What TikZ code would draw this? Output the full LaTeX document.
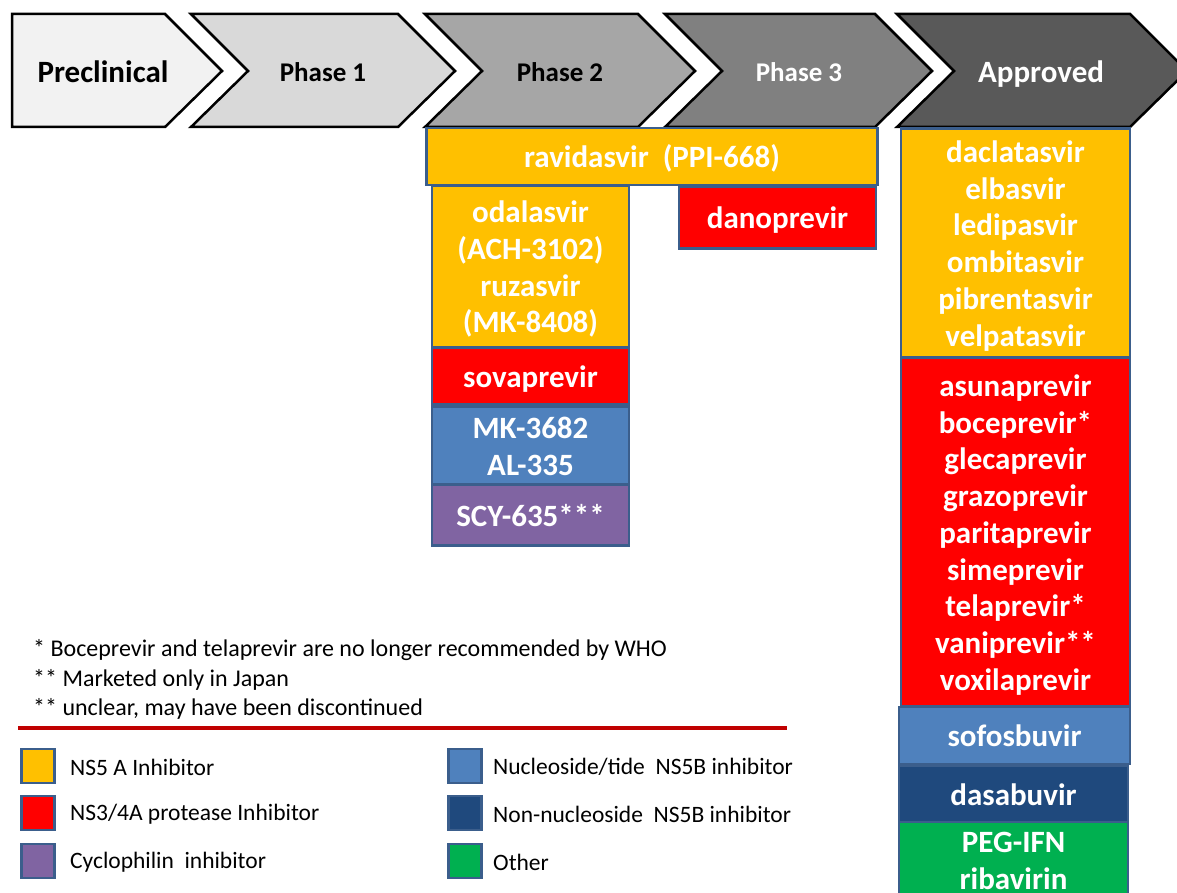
\documentclass[tikz,border=0pt]{standalone}
\usepackage{fontspec}
\setmainfont{Carlito}
\definecolor{cPre}{HTML}{F2F2F2}
\definecolor{cP1}{HTML}{D9D9D9}
\definecolor{cP2}{HTML}{A6A6A6}
\definecolor{cP3}{HTML}{808080}
\definecolor{cApp}{HTML}{595959}
\definecolor{cYel}{HTML}{FFC000}
\definecolor{cRed}{HTML}{FF0000}
\definecolor{cBlue}{HTML}{4F81BD}
\definecolor{cNavy}{HTML}{1F497D}
\definecolor{cPur}{HTML}{8064A2}
\definecolor{cGrn}{HTML}{00B050}
\definecolor{cEdge}{HTML}{3B5E8C}
\definecolor{cLine}{HTML}{C00000}
\newcommand{\dlines}[1]{\raisebox{-4pt}[\height][\depth]{\begin{tabular}{@{}c@{}}#1\end{tabular}}}
\tikzset{
  chev/.style={draw=black, line width=2.5pt, line join=miter},
  chevtxt/.style={anchor=base, inner sep=0pt, font=\bfseries\fontsize{27}{30}\selectfont},
  chevbig/.style={anchor=base, inner sep=0pt, font=\bfseries\fontsize{31}{32}\selectfont},
  drug/.style={draw=cEdge, line width=2.5pt, inner sep=0pt, text=white,
    font=\bfseries\fontsize{31}{36.7}\selectfont},
  legbox/.style={draw=cEdge, line width=2.5pt, minimum width=33pt, minimum height=34pt, inner sep=0pt},
  legtxt/.style={anchor=west, inner sep=0pt, font=\fontsize{23.5}{26}\selectfont},
  note/.style={anchor=west, inner sep=0pt, font=\fontsize{24}{26}\selectfont}
}
\begin{document}
\begin{tikzpicture}[x=1pt,y=-1pt]
\useasboundingbox (0,0) rectangle (1177,893);
\clip (0,0) rectangle (1177,893);
% chevrons
\draw[chev, fill=cPre] (12,14) -- (165,14) -- (222,71) -- (165,127) -- (12,127) -- cycle;
\node[chevbig] (pre) at (103,83) {Preclinical};
\draw[chev, fill=cP1] (191,14) -- (398,14) -- (455,71) -- (398,127) -- (191,127) -- (248,71) -- cycle;
\node[chevtxt] (ph1) at (323,81.5) {Phase 1};
\draw[chev, fill=cP2] (425,14) -- (638,14) -- (695,71) -- (638,127) -- (425,127) -- (482,71) -- cycle;
\node[chevtxt] (ph2) at (560,81.5) {Phase 2};
\draw[chev, fill=cP3] (665,14) -- (875,14) -- (932,71) -- (875,127) -- (665,127) -- (722,71) -- cycle;
\node[chevtxt, text=white] (ph3) at (799,81.5) {Phase 3};
\draw[chev, fill=cApp] (897,14) -- (1130,14) -- (1187,71) -- (1130,127) -- (897,127) -- (954,71) -- cycle;
\node[chevbig, text=white] (app) at (1041,83) {Approved};
% phase 2/3 drugs
\node[drug, fill=cYel, minimum width=451pt, minimum height=57pt] (ravi) at (652,156.5) {\dlines{ravidasvir\ \ (PPI-668)}};
\node[drug, fill=cYel, minimum width=197pt, minimum height=162pt] (oda) at (530.5,266.5) {\dlines{odalasvir\\(ACH-3102)\\ruzasvir\\(MK-8408)}};
\node[drug, fill=cRed, minimum width=197pt, minimum height=62pt] (dano) at (777.5,217.5) {\dlines{danoprevir}};
\node[drug, fill=cRed, minimum width=197pt, minimum height=57pt] (sova) at (530.5,376) {\dlines{sovaprevir}};
\node[drug, fill=cBlue, minimum width=197pt, minimum height=78pt] (mk) at (530.5,445.5) {\dlines{MK-3682\\AL-335}};
\node[drug, fill=cPur, minimum width=197pt, minimum height=61pt] (scy) at (530.5,515) {\dlines{SCY-635***}};
% approved drugs
\node[drug, fill=cYel, minimum width=229pt, minimum height=229pt] (ns5a) at (1015.5,243) {\dlines{daclatasvir\\elbasvir\\ledipasvir\\ombitasvir\\pibrentasvir\\velpatasvir}};
\node[drug, fill=cRed, minimum width=229pt, minimum height=348pt] (ns3) at (1015.5,532) {\dlines{asunaprevir\\boceprevir*\\glecaprevir\\grazoprevir\\paritaprevir\\simeprevir\\telaprevir*\\vaniprevir**\\voxilaprevir}};
\node[drug, fill=cBlue, minimum width=231pt, minimum height=57pt] (sofo) at (1014.5,735.5) {\dlines{sofosbuvir}};
\node[drug, fill=cNavy, minimum width=229pt, minimum height=58pt] (dasa) at (1013.5,794.5) {\dlines{dasabuvir}};
\node[drug, fill=cGrn, minimum width=229pt, minimum height=76pt] (peg) at (1013.5,860) {\dlines{PEG-IFN\\ribavirin}};
% footnotes
\node[note] (n1) at (33,650) {* Boceprevir and telaprevir are no longer recommended by WHO};
\node[note] (n2) at (33,680) {** Marketed only in Japan};
\node[note] (n3) at (33,709) {** unclear, may have been discontinued};
\coordinate (lineL) at (18,728);
\coordinate (lineR) at (787,728);
\draw[cLine, line width=3.5pt] (lineL) -- (lineR);
% legend
\node[legbox, fill=cYel] (l1) at (38,766) {};
\node[legtxt] (t1) at (70,767) {NS5 A Inhibitor};
\node[legbox, fill=cRed] (l2) at (38,813) {};
\node[legtxt] (t2) at (70,814) {NS3/4A protease Inhibitor};
\node[legbox, fill=cPur] (l3) at (38,861) {};
\node[legtxt] (t3) at (70,862) {Cyclophilin\ \ inhibitor};
\node[legbox, fill=cBlue] (l4) at (465,766) {};
\node[legtxt] (t4) at (493,767) {Nucleoside/tide\ \ NS5B inhibitor};
\node[legbox, fill=cNavy] (l5) at (465,813) {};
\node[legtxt] (t5) at (493,814) {Non-nucleoside\ \ NS5B inhibitor};
\node[legbox, fill=cGrn] (l6) at (465,861) {};
\node[legtxt] (t6) at (493,862) {Other};
\end{tikzpicture}
\end{document}
